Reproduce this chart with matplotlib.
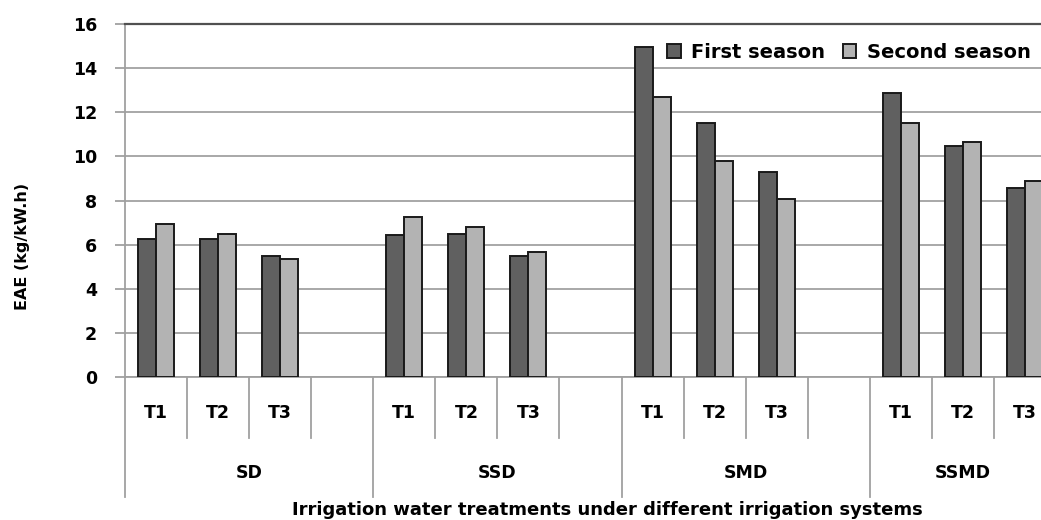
import matplotlib
matplotlib.use("Agg")
import matplotlib.pyplot as plt
import matplotlib.transforms as mtransforms
import numpy as np

groups = ["SD", "SSD", "SMD", "SSMD"]
treatments = ["T1", "T2", "T3"]
first_season = [6.26, 6.26, 5.48, 6.44, 6.50, 5.48, 14.97, 11.50, 9.28, 12.89, 10.49, 8.58]
second_season = [6.95, 6.50, 5.36, 7.25, 6.80, 5.68, 12.70, 9.79, 8.07, 11.50, 10.67, 8.90]
series_names = ["First season", "Second season"]
yticks = [0, 2, 4, 6, 8, 10, 12, 14, 16]

plt.rcParams['font.family'] = ['DejaVu Sans']
plt.rcParams['font.weight'] = 'bold'

W, H = 1041, 520
fig = plt.figure(figsize=(W / 100, H / 100), dpi=100)
left_px, top_px, bottom_px = 125, 24, 377
slot_px = 62.07
ax = fig.add_axes([left_px / W, 1 - bottom_px / H, (W - left_px) / W, (bottom_px - top_px) / H])

# slot positions: each group has 3 treatments + 1 empty slot (last group has no empty slot)
xpos = []
for g in range(len(groups)):
    for t in range(len(treatments)):
        xpos.append(g * 4 + t)
xpos = np.array(xpos, dtype=float)

w = 0.29
ax.bar(xpos - w / 2, first_season, w, color="#606060", edgecolor="#1a1a1a", linewidth=1.4,
       label=series_names[0], zorder=3)
ax.bar(xpos + w / 2, second_season, w, color="#b3b3b3", edgecolor="#1a1a1a", linewidth=1.4,
       label=series_names[1], zorder=3)

ax.set_ylim(0, 16)
ax.set_xlim(-0.5, -0.5 + (W - left_px) / slot_px)
ax.set_yticks(yticks)
ax.set_yticklabels([str(v) for v in yticks], fontsize=12.5, fontweight='bold')
ax.yaxis.grid(True, color="#a8a8a8", linewidth=1.4, zorder=0)
ax.set_axisbelow(True)
ax.tick_params(axis='y', length=7, width=1.3, color="#a0a0a0", pad=13)
ax.tick_params(axis='x', length=0, labelbottom=False)
ax.set_xticks([])

ax.spines['right'].set_visible(False)
ax.spines['top'].set_color("#505050")
ax.spines['top'].set_linewidth(1.6)
ax.spines['left'].set_color("#a0a0a0")
ax.spines['left'].set_linewidth(1.3)
ax.spines['bottom'].set_color("#a0a0a0")
ax.spines['bottom'].set_linewidth(1.3)

fig.text(23 / W, 1 - 246 / H, "EAE (kg/kW.h)", rotation=90, ha='center', va='center',
         fontsize=11.5, fontweight='bold')

# hierarchical x axis
trans = mtransforms.blended_transform_factory(ax.transData, ax.transAxes)
n_slots = len(groups) * 4 - 1
for i in range(n_slots + 1):
    xb = i - 0.5
    y_end = -0.339 if i % 4 == 0 else -0.173
    ax.plot([xb, xb], [0, y_end], transform=trans, color="#a0a0a0", lw=1.3, clip_on=False)

for g, gname in enumerate(groups):
    for t, tname in enumerate(treatments):
        ax.text(g * 4 + t, -0.102, tname, transform=trans, ha='center', va='center',
                fontsize=12.5, fontweight='bold')
    n_in_group = 4 if g < len(groups) - 1 else 3
    ax.text(g * 4 + (n_in_group - 1) / 2, -0.272, gname, transform=trans, ha='center', va='center',
            fontsize=12.5, fontweight='bold')

fig.text(607 / W, 1 - 510 / H, "Irrigation water treatments under different irrigation systems",
         ha='center', va='center', fontsize=13, fontweight='bold')

leg = ax.legend(loc='upper left', bbox_to_anchor=(667 / W, 1 - 43 / H), bbox_transform=fig.transFigure,
                ncol=2, frameon=False, prop={'weight': 'bold', 'size': 14},
                handlelength=0.7, handleheight=0.7, handletextpad=0.55, columnspacing=0.9,
                borderaxespad=0, borderpad=0)

fig.savefig("out.png", dpi=100)
